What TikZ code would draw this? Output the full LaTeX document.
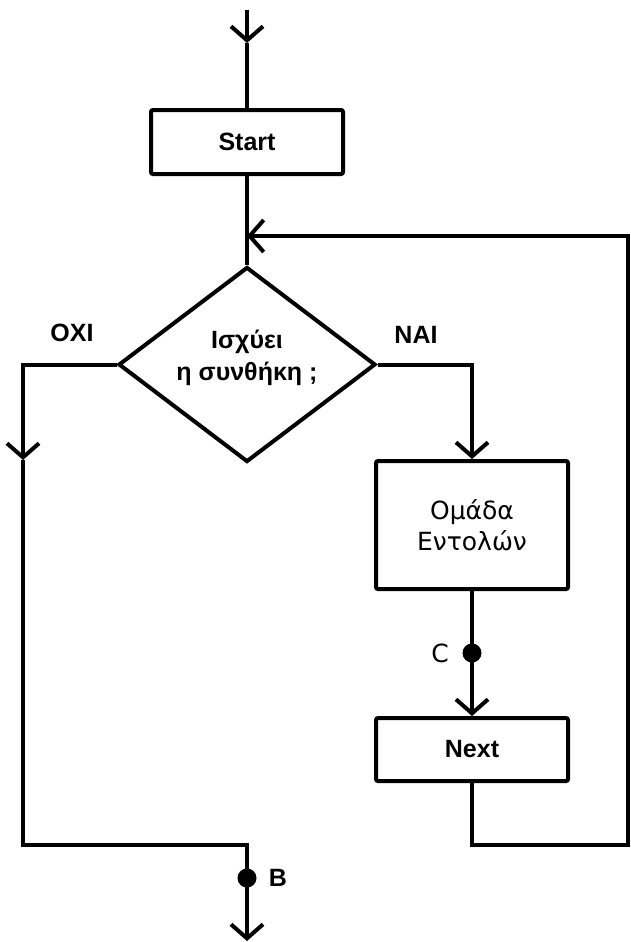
\documentclass[tikz,border=0pt]{standalone}
\usepackage{fontspec}
\setmainfont{Liberation Sans}
\newfontfamily\plainfont{DejaVu Sans}
\usetikzlibrary{arrows.meta,positioning,shapes.geometric}
\newcommand{\flowfont}{\fontsize{25}{32}\selectfont}

\begin{document}
\begin{tikzpicture}[
    x=1pt, y=-1pt,
    line width=4pt,
    >={Straight Barb[length=14pt,width=32pt]},
    block/.style={draw, rounded corners=2pt, align=center, minimum width=192pt, inner sep=2pt},
    decision/.style={draw, diamond, aspect=1.32, minimum width=257pt, minimum height=195pt, inner sep=0pt},
    dot/.style={circle, fill, inner sep=0pt, minimum size=19pt},
    plain/.style={font=\plainfont\fontsize{25}{31}\selectfont},
    font=\flowfont\bfseries
  ]
    \useasboundingbox (0,0) rectangle (631,942);
    \node[block, minimum height=64pt] (start) at (247,142) {Start};
    \node[decision] (cond) at (247,364.5)
      {\raisebox{6pt}[\height][\depth]{\begin{tabular}{@{}c@{}}Ισχύει\\η συνθήκη ;\end{tabular}}};
    \node[block, plain, minimum height=128pt] (body) at (472,525) {Ομάδα\\Εντολών};
    \node[block, minimum height=63pt] (next) at (472,749.5) {Next};
    \node (nolbl) at (72,333) {ΟΧΙ};
    \node (yeslbl) at (416,335) {ΝΑΙ};
    \coordinate (in) at (247,10);
    \coordinate (inarr) at (247,43);
    \coordinate (loop) at (247,236);
    \coordinate (noarr) at (23,460);
    \coordinate (join) at (247,845);
    \coordinate (turn) at (628,845);
    \coordinate (out) at (247,941);
    \draw[->] (in) -- (inarr);
    \draw (inarr) -- (start.north);
    \draw (start.south) -- (cond.north);
    \draw[->] (cond.west) -| (noarr);
    \draw[->] (noarr) |- (join) -- (out);
    \draw[->] (cond.east) -| (body.north);
    \draw[->] (body.south) -- (next.north);
    \draw[->] (next.south) |- (turn) |- (loop);
    \node[dot] (cdot) at (472,653) {};
    \node[plain] (clbl) at (440,653) {C};
    \node[dot] (bdot) at (247,878) {};
    \node (blbl) at (278,878) {B};
  \end{tikzpicture}
\end{document}
